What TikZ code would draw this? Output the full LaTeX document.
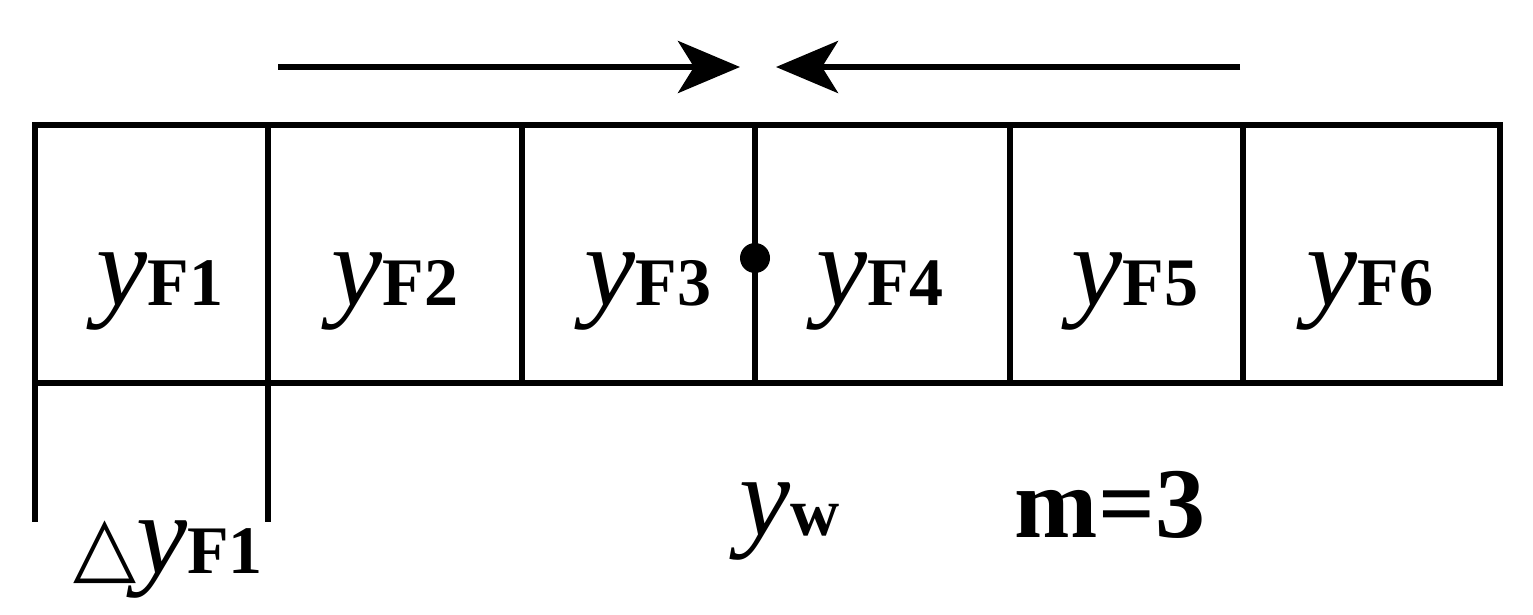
\documentclass[tikz,border=0pt]{standalone}
\usepackage{fontspec}
\setmainfont{Liberation Serif}
\newfontfamily\djv{DejaVu Sans}
\usetikzlibrary{arrows.meta}
\newcommand{\yl}[1]{{\fontsize{115}{115}\selectfont\itshape y}{\fontsize{68}{68}\selectfont\bfseries #1}}
\begin{document}
\begin{tikzpicture}[x=1pt,y=-1pt,line width=6pt,
  lab/.style={inner sep=0pt,anchor=base},
  arr/.style={-{Stealth[length=62pt,width=52pt,inset=16pt]}}]
\useasboundingbox (0,0) rectangle (1533,614);
\draw (35,125) rectangle (1500,383);
\foreach \x in {268,522,755,1010,1243} \draw (\x,125) -- (\x,383);
\draw (35,383) -- (35,522);
\draw (268,383) -- (268,522);
\fill (755,258) circle (15pt);
\coordinate (a1) at (278,67); \coordinate (a2) at (740,67);
\coordinate (b1) at (1240,67); \coordinate (b2) at (776,67);
\draw[arr] (a1) -- (a2);
\draw[arr] (b1) -- (b2);
\node[lab] (f1) at (160,305) {\yl{F1}};
\node[lab] (f2) at (395,305) {\yl{F2}};
\node[lab] (f3) at (648,305) {\yl{F3}};
\node[lab] (f4) at (880,305) {\yl{F4}};
\node[lab] (f5) at (1135,305) {\yl{F5}};
\node[lab] (f6) at (1370,305) {\yl{F6}};
\node[lab] (w) at (790,535) {\yl{w}};
\node[lab] (m) at (1110,537) {\fontsize{100}{100}\selectfont\bfseries m=3};
\node[lab] (d) at (168,573) {{\djv\fontsize{82}{82}\selectfont △}\yl{F1}};
\end{tikzpicture}
\end{document}
